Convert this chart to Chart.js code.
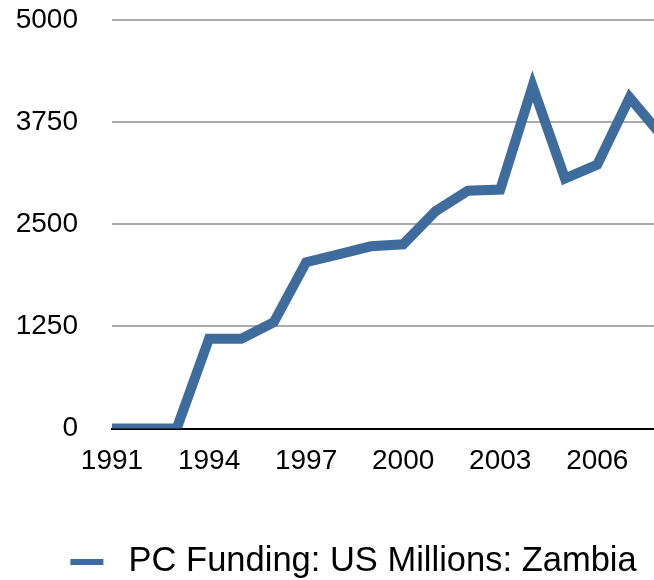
<!DOCTYPE html>
<html>
<head>
<meta charset="utf-8">
<script src="https://cdn.jsdelivr.net/npm/chart.js@4/dist/chart.umd.min.js"></script>
<style>
  html, body { margin: 0; padding: 0; background: #fff; overflow: hidden; width: 654px; height: 580px; }
  #wrap { width: 707px; height: 589px; }
</style>
</head>
<body>
<div id="wrap"><canvas id="c" width="707" height="589"></canvas></div>
<script>
const years = ['1991','1992','1993','1994','1995','1996','1997','1998','1999','2000','2001','2002','2003','2004','2005','2006','2007','2008'];
const funding = [0, 0, 0, 1100, 1100, 1300, 2035, 2130, 2230, 2255, 2660, 2910, 2925, 4190, 3060, 3230, 4050, 3580];
const yTicks = [0, 1250, 2500, 3750, 5000];
const seriesLabel = 'PC Funding: US Millions: Zambia';

const lineColor = '#3e6c9d';
const fontFamily = '"Liberation Sans", Arial, Helvetica, sans-serif';

// legend marker: short thick line (with blank lead-in so the legend sits where the original does)
const marker = document.createElement('canvas');
marker.width = 86; marker.height = 6;
const mctx = marker.getContext('2d');
mctx.fillStyle = lineColor;
mctx.fillRect(45, 0, 33, 6);

new Chart(document.getElementById('c'), {
  type: 'line',
  data: {
    labels: years,
    datasets: [{
      label: seriesLabel,
      data: funding,
      borderColor: lineColor,
      backgroundColor: lineColor,
      borderWidth: 10,
      pointRadius: 0,
      tension: 0,
      borderJoinStyle: 'miter',
      borderCapStyle: 'butt'
    }]
  },
  options: {
    responsive: false,
    animation: false,
    layout: { padding: { left: 0, right: 45, top: 20, bottom: 0 } },
    plugins: {
      tooltip: { enabled: false },
      legend: {
        position: 'bottom',
        labels: {
          usePointStyle: true,
          pointStyle: marker,
          pointStyleWidth: 86,
          color: '#000',
          font: { family: fontFamily, size: 34.5 },
          padding: 0
        }
      }
    },
    scales: {
      x: {
        offset: false,
        grid: { display: false, drawTicks: false },
        border: { display: true, color: '#000', width: 2 },
        afterFit: function(scale) { scale.height = 116; },
        ticks: {
          autoSkip: false,
          maxRotation: 0,
          padding: 16,
          color: '#000',
          font: { family: fontFamily, size: 28 },
          callback: function(v, i) { return i % 3 === 0 ? years[i] : ''; }
        }
      },
      y: {
        min: 0,
        max: 5000,
        afterBuildTicks: function(scale) { scale.ticks = yTicks.map(v => ({ value: v })); },
        afterFit: function(scale) { scale.width = 112; scale.paddingTop = 0; scale.paddingBottom = 0; },
        grid: { color: '#ababab', lineWidth: 2, drawTicks: false },
        border: { display: false },
        ticks: {
          padding: 34,
          color: '#000',
          font: { family: fontFamily, size: 28 },
          callback: function(v) { return String(v); }
        }
      }
    }
  }
});
</script>
</body>
</html>
